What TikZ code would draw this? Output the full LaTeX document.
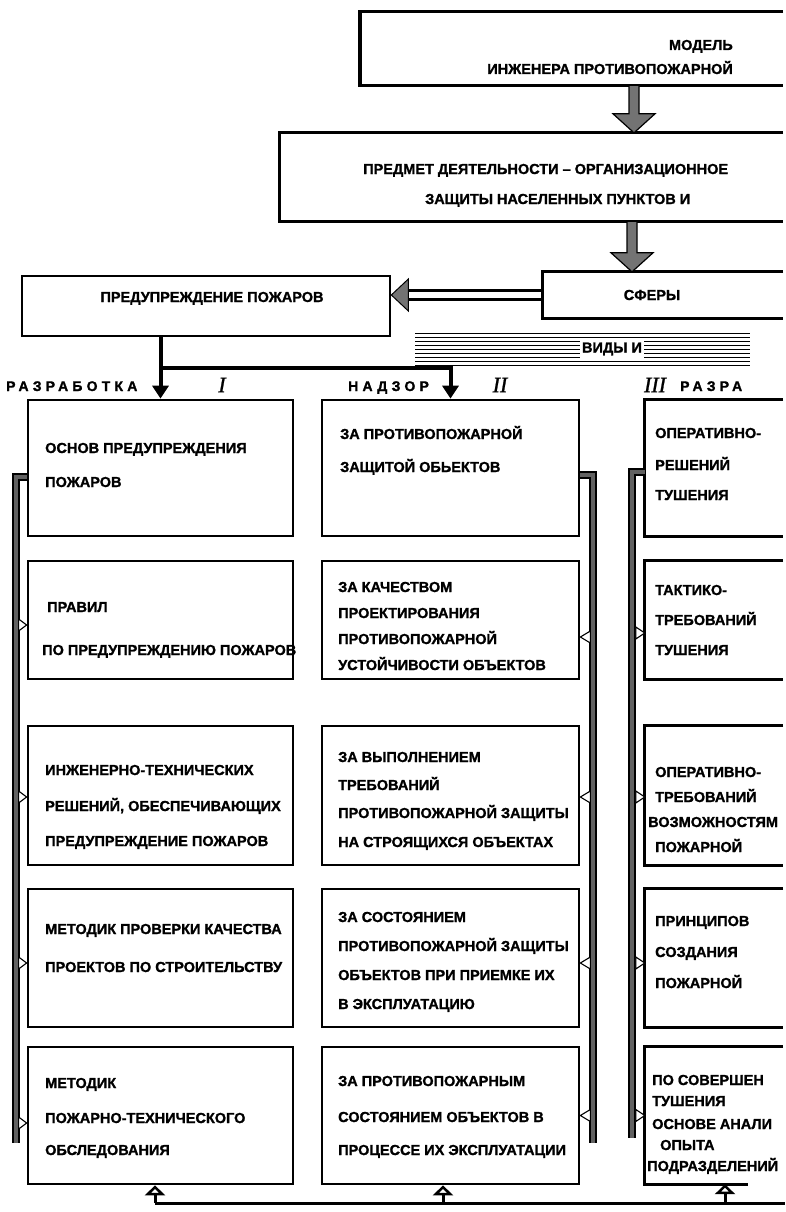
\documentclass[tikz,border=0pt]{standalone}
\usepackage{fontspec}
\setmainfont{Liberation Sans}[BoldFeatures={FakeBold=1.3}]
\newfontfamily\romfont{Liberation Serif}[ItalicFeatures={FakeBold=1}]
\newfontfamily\spfont{Liberation Sans}[LetterSpace=30,BoldFeatures={FakeBold=1.3}]
\usetikzlibrary{arrows.meta,calc}
\newcounter{tl}
\newcommand\Tl[4][base west]{\stepcounter{tl}\node[txt,anchor=#1] (tl\arabic{tl}) at (#2,#3) {#4};}
\begin{document}
\begin{tikzpicture}[x=1pt,y=-1pt,
  txt/.style={inner sep=0pt,font=\fontsize{14.5}{16}\selectfont\bfseries},
  lbl/.style={inner sep=0pt,font=\spfont\fontsize{14}{15}\selectfont\bfseries},
  rom/.style={inner sep=0pt,font=\romfont\itshape\fontsize{22}{22}\selectfont},
  cbox/.style={draw,line width=2.7pt,inner sep=0pt},
  obox/.style={inner sep=0pt},
  frame/.style={line width=2.7pt},
  conn/.style={line width=4pt,-{Triangle[width=16pt,length=13pt]}},
  bigarr/.style={fill=black!55,draw=black,line width=1.2pt,line join=miter},
  bar/.style={draw=black,line width=1.8pt,double=black!62,double distance=4.5pt},
  tri/.style={draw=black,fill=white,line width=1.1pt,line join=miter},
  uparr/.style={line width=3pt,-{Triangle[open,width=20pt,length=10pt]}},
]
\useasboundingbox (0,0) rectangle (785,1212);
\fill[white] (0,0) rectangle (785,1212);

% ---------- top part ----------
\node[obox,minimum width=423,minimum height=73] (mdl) at (571.5,48.5) {};
\draw[frame] (mdl.north east) -- (mdl.north west) -- (mdl.south west) -- (mdl.south east);
\draw[line width=3.8pt] (mdl.north west) -- (mdl.south west);
\Tl[base east]{733}{50}{МОДЕЛЬ}
\Tl[base east]{733}{74}{ИНЖЕНЕРА ПРОТИВОПОЖАРНОЙ}

\node[obox,minimum width=503,minimum height=88] (prd) at (531.5,177) {};
\draw[frame] (prd.north east) -- (prd.north west) -- (prd.south west) -- (prd.south east);
\Tl{363}{174}{ПРЕДМЕТ ДЕЯТЕЛЬНОСТИ – ОРГАНИЗАЦИОННОЕ}
\Tl{425}{204}{ЗАЩИТЫ НАСЕЛЕННЫХ ПУНКТОВ И}

\node[obox,minimum width=240,minimum height=46] (sf) at (663,295) {};
\draw[frame] (sf.north east) -- (sf.north west) -- (sf.south west) -- (sf.south east);
\Tl[base]{652}{300}{СФЕРЫ}

\node[cbox,minimum width=368,minimum height=60] (pp) at (206,306) {};
\Tl[base]{212}{302}{ПРЕДУПРЕЖДЕНИЕ ПОЖАРОВ}

% big grey arrows
\coordinate (ax1) at (634,0);
\coordinate (t1) at (mdl.south -| ax1);
\coordinate (h1) at (prd.north -| ax1);
\draw[bigarr] ($(t1)+(-5,0)$) -- ($(h1)+(-5,-19)$) -- ($(h1)+(-21,-19)$) -- (h1)
  -- ($(h1)+(21,-19)$) -- ($(h1)+(5,-19)$) -- ($(t1)+(5,0)$) -- cycle;
\coordinate (ax2) at (632,0);
\coordinate (t2) at (prd.south -| ax2);
\coordinate (h2) at (sf.north -| ax2);
\draw[bigarr] ($(t2)+(-5,0)$) -- ($(h2)+(-5,-19)$) -- ($(h2)+(-21,-19)$) -- (h2)
  -- ($(h2)+(21,-19)$) -- ($(h2)+(5,-19)$) -- ($(t2)+(5,0)$) -- cycle;

% double-line arrow
\coordinate (dt) at (pp.east |- sf.west);
\draw[line width=2.2pt] ($(sf.west)+(0,-4.5)$) -- ($(dt)+(16,-4.5)$);
\draw[line width=2.2pt] ($(sf.west)+(0,4.5)$) -- ($(dt)+(16,4.5)$);
\filldraw[fill=black!55,draw=black,line width=1pt,line join=miter] (dt) -- ++(17,-16) -- ++(0,32) -- cycle;

% hatched band
\foreach \i in {0,...,8} \draw[line width=0.9pt] (415,333+4*\i) -- (750,333+4*\i);
\node[txt,fill=white,inner xsep=2pt,inner ysep=3pt] (vid) at (612,349) {ВИДЫ И};

% ---------- columns ----------
\foreach \r/\cy/\h in {1/468/136,2/620/118,3/795.5/139,4/958/138,5/1115.5/137} {
  \node[cbox,minimum width=265,minimum height=\h] (c1r\r) at (160.5,\cy) {};
  \node[cbox,minimum width=257,minimum height=\h] (c2r\r) at (450.5,\cy) {};
  \node[obox,minimum width=138,minimum height=\h] (c3r\r) at (714,\cy) {};
}
\foreach \r in {1,...,4}
  \draw[frame] (c3r\r.north east) -- (c3r\r.north west) -- (c3r\r.south west) -- (c3r\r.south east);
\draw[frame] (c3r5.north east) -- (c3r5.north west) -- (c3r5.south west) -- ($(c3r5.south west)+(103,0)$);

% connector from ПРЕДУПРЕЖДЕНИЕ
\coordinate (jn) at (0,368);
\draw[conn] (c1r1.north |- pp.south) -- (c1r1.north);
\draw[conn] (c1r1.north |- jn) -| (c2r1.north);

% labels
\node[lbl,anchor=base west] (la1) at (6,391) {РАЗРАБОТКА};
\node[rom] (n1) at (222,385) {I};
\node[lbl,anchor=base west] (la2) at (348,391) {НАДЗОР};
\node[rom] (n2) at (500,385) {II};
\node[rom] (n3) at (655,385) {III};
\node[lbl,anchor=base west] (la3) at (680,391) {РАЗРА};

% column 1 text
\Tl{45}{453}{ОСНОВ ПРЕДУПРЕЖДЕНИЯ}
\Tl{45}{487}{ПОЖАРОВ}
\Tl{47}{612}{ПРАВИЛ}
\Tl{42}{655}{ПО ПРЕДУПРЕЖДЕНИЮ ПОЖАРОВ}
\Tl{45}{775}{ИНЖЕНЕРНО-ТЕХНИЧЕСКИХ}
\Tl{45}{811}{РЕШЕНИЙ, ОБЕСПЕЧИВАЮЩИХ}
\Tl{45}{846}{ПРЕДУПРЕЖДЕНИЕ ПОЖАРОВ}
\Tl{45}{934}{МЕТОДИК ПРОВЕРКИ КАЧЕСТВА}
\Tl{45}{972}{ПРОЕКТОВ ПО СТРОИТЕЛЬСТВУ}
\Tl{45}{1088}{МЕТОДИК}
\Tl{45}{1123}{ПОЖАРНО-ТЕХНИЧЕСКОГО}
\Tl{45}{1155}{ОБСЛЕДОВАНИЯ}

% column 2 text
\Tl{340}{439}{ЗА ПРОТИВОПОЖАРНОЙ}
\Tl{340}{472}{ЗАЩИТОЙ ОБЬЕКТОВ}
\Tl{338}{592}{ЗА КАЧЕСТВОМ}
\Tl{338}{618}{ПРОЕКТИРОВАНИЯ}
\Tl{338}{644}{ПРОТИВОПОЖАРНОЙ}
\Tl{338}{670}{УСТОЙЧИВОСТИ ОБЪЕКТОВ}
\Tl{338}{762}{ЗА ВЫПОЛНЕНИЕМ}
\Tl{338}{790}{ТРЕБОВАНИЙ}
\Tl{338}{818}{ПРОТИВОПОЖАРНОЙ ЗАЩИТЫ}
\Tl{338}{847}{НА СТРОЯЩИХСЯ ОБЪЕКТАХ}
\Tl{338}{922}{ЗА СОСТОЯНИЕМ}
\Tl{338}{951}{ПРОТИВОПОЖАРНОЙ ЗАЩИТЫ}
\Tl{338}{980}{ОБЪЕКТОВ ПРИ ПРИЕМКЕ ИХ}
\Tl{338}{1009}{В ЭКСПЛУАТАЦИЮ}
\Tl{338}{1086}{ЗА ПРОТИВОПОЖАРНЫМ}
\Tl{338}{1122}{СОСТОЯНИЕМ ОБЪЕКТОВ В}
\Tl{338}{1155}{ПРОЦЕССЕ ИХ ЭКСПЛУАТАЦИИ}

% column 3 text
\Tl{655}{438}{ОПЕРАТИВНО-}
\Tl{655}{470}{РЕШЕНИЙ}
\Tl{655}{500}{ТУШЕНИЯ}
\Tl{655}{595}{ТАКТИКО-}
\Tl{655}{625}{ТРЕБОВАНИЙ}
\Tl{655}{655}{ТУШЕНИЯ}
\Tl{655}{777}{ОПЕРАТИВНО-}
\Tl{655}{802}{ТРЕБОВАНИЙ}
\Tl{648}{827}{ВОЗМОЖНОСТЯМ}
\Tl{655}{852}{ПОЖАРНОЙ}
\Tl{655}{926}{ПРИНЦИПОВ}
\Tl{655}{957}{СОЗДАНИЯ}
\Tl{655}{988}{ПОЖАРНОЙ}
\Tl{652}{1085}{ПО СОВЕРШЕН}
\Tl{652}{1106}{ТУШЕНИЯ}
\Tl{652}{1129}{ОСНОВЕ АНАЛИ}
\Tl{660}{1150}{ОПЫТА}
\Tl{647}{1171}{ПОДРАЗДЕЛЕНИЙ}

% ---------- vertical bars ----------
\coordinate (lbend) at (16,1143);
\coordinate (mbend) at (593,1143);
\coordinate (rbend) at (632,1138);
\draw[bar] ($(c1r1.west)+(0,9)$) -| (lbend);
\draw[bar] ($(c2r1.east)+(0,7)$) -| (mbend);
\draw[bar] ($(c3r1.west)+(0,4)$) -| (rbend);

% small triangles
\foreach \r/\d in {2/5,3/1.5,4/5,5/7.5}
  \draw[tri] ($(c1r\r.west)+(0,\d)$) -- ++(-8,-6) -- ++(0,12) -- cycle;
\foreach \r/\d in {2/17,3/1.5,4/5,5/0}
  \draw[tri] ($(c2r\r.east)+(0,\d)$) -- ++(10,-6) -- ++(0,12) -- cycle;
\foreach \r/\d in {2/13,3/1.5,4/5,5/0}
  \draw[tri] ($(c3r\r.west)+(0,\d)$) -- ++(-9,-6) -- ++(0,12) -- cycle;

% ---------- bottom line ----------
\coordinate (b1) at (155,1203);
\coordinate (b2) at (443,1203);
\coordinate (b3) at (725,1203);
\coordinate (be) at (785,1203);
\draw[line width=3pt] (b1) -- (be);
\draw[uparr] (b1) -- (b1 |- c1r5.south);
\draw[uparr] (b2) -- (b2 |- c2r5.south);
\draw[uparr] (b3) -- (b3 |- c3r5.south);
\end{tikzpicture}
\end{document}
